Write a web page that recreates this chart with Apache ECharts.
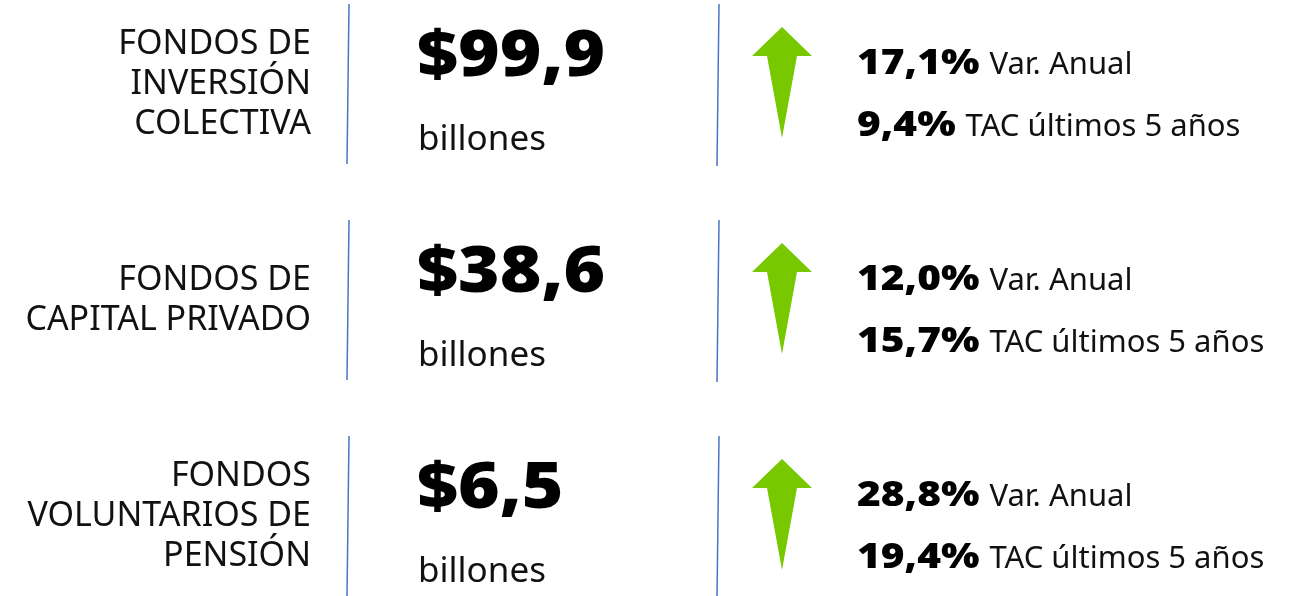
<!DOCTYPE html>
<html>
<head>
<meta charset="utf-8">
<script src="https://cdn.jsdelivr.net/npm/echarts@6/dist/echarts.min.js"></script>
<style>
    html, body { margin: 0; padding: 0; background: #fff; }
    #main { width: 1292px; height: 596px; }
</style>
</head>
<body>
<div id="main"></div>
<script>
// datos de la infografía
var categorias = ['FONDOS DE\nINVERSIÓN\nCOLECTIVA', 'FONDOS DE\nCAPITAL PRIVADO', 'FONDOS\nVOLUNTARIOS DE\nPENSIÓN'];
var valores = [99.9, 38.6, 6.5];
var varAnual = [17.1, 12.0, 28.8];
var tac5 = [9.4, 15.7, 19.4];
var unidad = 'billones';
var textoVar = 'Var. Anual';
var textoTac = 'TAC últimos 5 años';

function fmt(v) {
    return v.toFixed(1).replace('.', ',');
}

var myChart = echarts.init(document.querySelector('#main'));
var font = '"Noto Sans", "Open Sans", sans-serif';
var fontNum = '900 35px ' + font;
var fontTxt = '31px ' + font;
var verde = '#78c800';
var azul = '#4a72c8';

// medir ancho de texto
var ctx = document.createElement('canvas').getContext('2d');
function ancho(txt, f) {
    ctx.font = f;
    return ctx.measureText(txt).width;
}

function renderItem(params, api) {
    var i = api.value(0);
    var cy = api.coord([0, i])[1];
    var X = function (x) { return api.coord([x, i])[0]; };
    var ax = X(782);
    // porcentaje en negrita + texto normal
    var linea = function (num, txt, y) {
        var s = fmt(num) + '%';
        var sx = 1.16;
        var w = ancho(s, fontNum) * sx;
        return [{
            type: 'text',
            x: X(857), y: y, scaleX: sx,
            style: {
                text: s, x: 0, y: 0,
                align: 'left', verticalAlign: 'middle',
                font: fontNum, fill: '#000'
            }
        }, {
            type: 'text',
            style: {
                text: txt, x: X(857) + w + 10, y: y + 1,
                align: 'left', verticalAlign: 'middle',
                font: fontTxt, fill: '#111'
            }
        }];
    };
    return {
        type: 'group',
        children: [
            {
                type: 'text',
                style: {
                    text: categorias[i], x: X(311), y: cy,
                    align: 'right', verticalAlign: 'middle',
                    font: '34px ' + font, lineHeight: 40, fill: '#111'
                }
            },
            {
                type: 'line',
                shape: { x1: X(349), y1: cy - 80, x2: X(347), y2: cy + 80 },
                style: { stroke: azul, lineWidth: 1.5 }
            },
            {
                type: 'text',
                x: X(417), y: cy - 26, scaleX: 1.13,
                style: {
                    text: '$' + fmt(valores[i]), x: 0, y: 0,
                    align: 'left', verticalAlign: 'middle',
                    font: '900 63px ' + font, fill: '#000'
                }
            },
            {
                type: 'text',
                style: {
                    text: unidad, x: X(418), y: cy + 56,
                    align: 'left', verticalAlign: 'middle',
                    font: '35px ' + font, fill: '#111'
                }
            },
            {
                type: 'line',
                shape: { x1: X(719), y1: cy - 80, x2: X(717), y2: cy + 82 },
                style: { stroke: azul, lineWidth: 1.5 }
            },
            {
                type: 'polygon',
                shape: {
                    points: [
                        [ax, cy - 57], [ax + 30, cy - 28], [ax + 15, cy - 28],
                        [ax, cy + 54], [ax - 15, cy - 28], [ax - 30, cy - 28]
                    ]
                },
                style: { fill: verde }
            }
        ].concat(linea(varAnual[i], textoVar, cy - 20), linea(tac5[i], textoTac, cy + 42))
    };
}

var option = {
    animation: false,
    grid: { left: 0, right: 0, top: 0, bottom: 0 },
    xAxis: { type: 'value', min: 0, max: 1292, show: false },
    // filas centradas en 84, 300 y 516 px
    yAxis: { type: 'value', min: -0.3889, max: 2.3704, inverse: true, show: false },
    series: [{
        type: 'custom',
        renderItem: renderItem,
        encode: { x: -1, y: 0 },
        data: categorias.map(function (c, i) { return [i]; })
    }]
};
myChart.setOption(option);
</script>
</body>
</html>
